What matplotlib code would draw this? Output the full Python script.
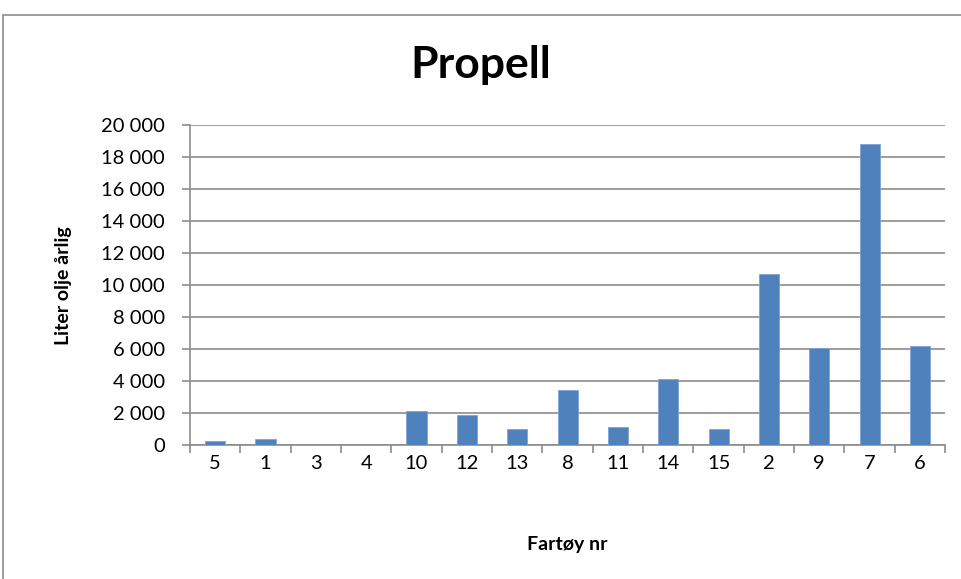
import matplotlib.pyplot as plt
import matplotlib.patches as mpatches
from matplotlib.ticker import FuncFormatter, FixedLocator
import numpy as np

plt.rcParams['font.family'] = ['Lato', 'DejaVu Sans']

vessels = ['5', '1', '3', '4', '10', '12', '13', '8', '11', '14', '15', '2', '9', '7', '6']
oil_litres = [250, 375, 0, 0, 2130, 1880, 1000, 3480, 1130, 4130, 1000, 10670, 6060, 18790, 6190]

fig = plt.figure(figsize=(9.62, 5.79), dpi=100)
ax = fig.add_axes([0.1975, 0.231, 0.785, 0.553])

# chart frame
fig.patches.append(mpatches.Rectangle((3 / 962, -0.1), 1.2, 1 - 15 / 579 + 0.1,
                                      transform=fig.transFigure, fill=False,
                                      edgecolor='#8c8c8c', linewidth=1.2))

x = np.arange(len(vessels))
ax.bar(x, oil_litres, width=0.4, color='#4F81BD', edgecolor='#7fa3d4', linewidth=0.6, zorder=3)

ax.set_xlim(-0.5, len(vessels) - 0.5)
ax.set_ylim(0, 20000)
ax.set_yticks(np.arange(0, 20001, 2000))
ax.yaxis.set_major_formatter(FuncFormatter(lambda v, p: f'{int(v):,}'.replace(',', ' ')))
ax.grid(axis='y', color='#8c8c8c', linewidth=1.2, zorder=0)

ax.set_xticks(x)
ax.set_xticklabels(vessels)
ax.xaxis.set_minor_locator(FixedLocator(np.arange(-0.5, len(vessels), 1)))
ax.tick_params(axis='x', which='major', length=0, pad=7, labelsize=14.5)
ax.tick_params(axis='x', which='minor', length=6, width=1.2, color='#8c8c8c')
ax.tick_params(axis='y', length=6, width=1.2, color='#8c8c8c', labelsize=14.5, pad=12)

for s in ['top', 'right']:
    ax.spines[s].set_visible(False)
for s in ['left', 'bottom']:
    ax.spines[s].set_color('#8c8c8c')
    ax.spines[s].set_linewidth(1.2)

fig.text(0.5, 1 - 65 / 579, 'Propell', ha='center', va='center', fontsize=32, fontweight='bold')
ax.set_ylabel('Liter olje årlig', fontsize=14, fontweight='bold', labelpad=21)
ax.set_xlabel('Fartøy nr', fontsize=14, fontweight='bold', labelpad=46)

fig.savefig('out.png', dpi=100)
